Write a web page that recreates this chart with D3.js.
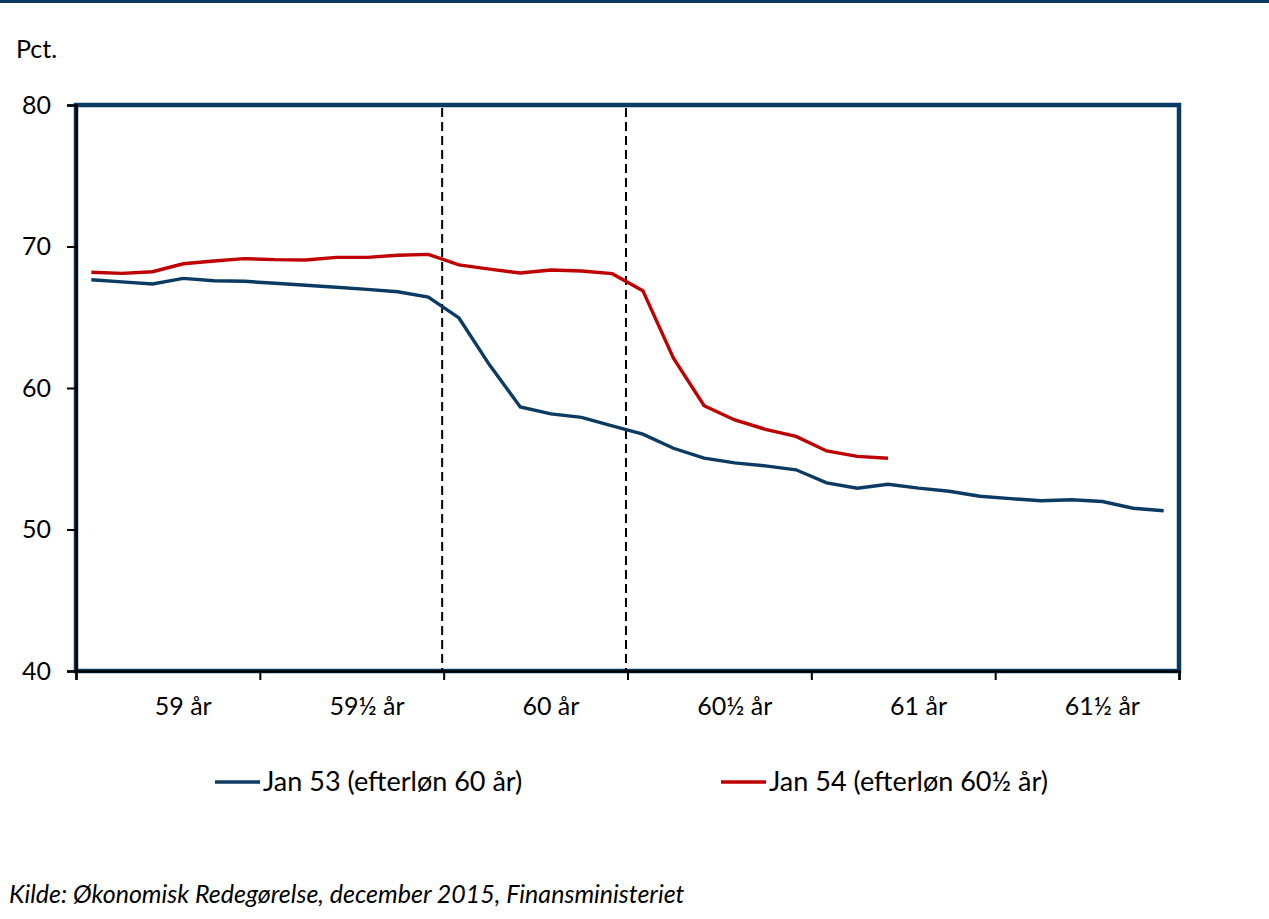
<!DOCTYPE html>
<html>
<head>
<meta charset="utf-8">
<script src="https://cdn.jsdelivr.net/npm/d3@7"></script>
<style>
  body { margin: 0; background: #fff; }
  svg { display: block; font-family: Lato, "Open Sans", sans-serif; }
</style>
</head>
<body>
<svg width="1269" height="919"></svg>
<script>
var svg = d3.select("svg"),
    width = +svg.attr("width"),
    height = +svg.attr("height");

// monthly observations, 6 per half-year band
var bandLabels = ["59 år", "59½ år", "60 år", "60½ år", "61 år", "61½ år"];
var yTicks = [40, 50, 60, 70, 80];
var jan53 = [67.65, 67.5, 67.35, 67.75, 67.58, 67.54, 67.4, 67.26, 67.12, 66.97, 66.8, 66.43,
             64.95, 61.62, 58.66, 58.17, 57.92, 57.33, 56.74, 55.74, 55.04, 54.71, 54.5, 54.22,
             53.3, 52.92, 53.2, 52.92, 52.7, 52.35, 52.18, 52.03, 52.1, 51.98, 51.5, 51.33];
var jan54 = [68.18, 68.1, 68.22, 68.78, 68.98, 69.14, 69.07, 69.05, 69.23, 69.23, 69.38, 69.44,
             68.7, 68.4, 68.13, 68.34, 68.27, 68.08, 66.88, 62.1, 58.75, 57.74, 57.08, 56.58,
             55.55, 55.17, 55.04];
var legendNames = ["Jan 53 (efterløn 60 år)", "Jan 54 (efterløn 60½ år)"];
var dividers = [12, 18];

var navy = "#0b3a63", red = "#c00000";

var x = d3.scaleLinear().domain([0, 36]).range([76, 1179]);
var y = d3.scaleLinear().domain([40, 80]).range([671, 105]);

// top bar (cut-off header)
svg.append("rect").attr("x", 0).attr("y", 0).attr("width", width).attr("height", 3).attr("fill", navy);

svg.append("text").attr("x", 16).attr("y", 58).attr("font-size", 25).text("Pct.");

// frame
svg.append("rect")
  .attr("x", x(0)).attr("y", y(80))
  .attr("width", x(36) - x(0)).attr("height", y(40) - y(80))
  .attr("fill", "none").attr("stroke", navy).attr("stroke-width", 4.5);

// y axis
var yAxis = svg.append("g").attr("transform", "translate(" + x(0) + ",0)")
  .call(d3.axisLeft(y).tickValues(yTicks).tickSize(9).tickPadding(16));
yAxis.select(".domain").attr("stroke", "#000").attr("stroke-width", 2.5);
yAxis.selectAll(".tick line").attr("stroke", "#000").attr("stroke-width", 2);
yAxis.selectAll("text").attr("font-size", 25).attr("fill", "#000").style("font-family", "Lato");

// x axis
var xAxis = svg.append("g").attr("transform", "translate(0," + y(40) + ")")
  .call(d3.axisBottom(x).tickValues(d3.range(0, 37, 6)).tickSize(9).tickFormat(""));
xAxis.select(".domain").attr("stroke", "#000").attr("stroke-width", 2.5);
xAxis.selectAll(".tick line").attr("stroke", "#000").attr("stroke-width", 2);

svg.selectAll(".band-label").data(bandLabels).enter().append("text")
  .attr("class", "band-label")
  .attr("x", function(d, i) { return x(i * 6 + 3.5); })
  .attr("y", 715)
  .attr("text-anchor", "middle")
  .attr("font-size", 25)
  .text(function(d) { return d; });

// dashed dividers
svg.selectAll(".divider").data(dividers).enter().append("line")
  .attr("x1", function(d) { return x(d) - 1.5; }).attr("x2", function(d) { return x(d) - 1.5; })
  .attr("y1", y(80) + 3).attr("y2", y(40))
  .attr("stroke", "#000").attr("stroke-width", 2).attr("stroke-dasharray", "9,5");

var line = d3.line()
  .x(function(d, i) { return x(i + 0.5); })
  .y(function(d) { return y(d); });

svg.append("path").datum(jan53).attr("d", line)
  .attr("fill", "none").attr("stroke", navy).attr("stroke-width", 3.4);
svg.append("path").datum(jan54).attr("d", line)
  .attr("fill", "none").attr("stroke", red).attr("stroke-width", 3.4);

// legend
var legend = svg.selectAll(".legend").data(legendNames).enter().append("g")
  .attr("transform", function(d, i) { return "translate(" + (215 + i * 506) + ",782)"; });
legend.append("line").attr("x1", 0).attr("x2", 45)
  .attr("stroke", function(d, i) { return i ? red : navy; }).attr("stroke-width", 3.4);
legend.append("text").attr("x", 48).attr("y", 9).attr("font-size", 27).text(function(d) { return d; });

svg.append("text").attr("x", 9).attr("y", 903).attr("font-size", 25).attr("font-style", "italic")
  .text("Kilde: Økonomisk Redegørelse, december 2015, Finansministeriet");
</script>
</body>
</html>
